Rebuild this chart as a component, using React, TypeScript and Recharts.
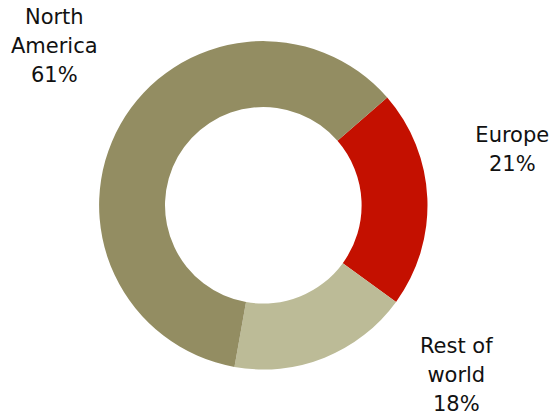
import React from 'react';
import { PieChart, Pie, Cell } from 'recharts';

const regions = ['Europe', 'Rest of world', 'North America'];
const shares = [21.4, 17.8, 60.8];
const labelLines = [['Europe'], ['Rest of', 'world'], ['North', 'America']];

const sliceColors = ['#c41000', '#bcbb97', '#938d62'];

// label block anchor relative to the pie centre (dx = centre of text, dy = first baseline)
const labelOffsets = [
  { dx: 249, dy: -63 },
  { dx: 193, dy: 148 },
  { dx: -209, dy: -181 },
];

const data = regions.map((name, i) => ({ name, value: shares[i] }));

const renderLabel = (props: any) => {
  const { cx, cy, index, value } = props;
  const off = labelOffsets[index];
  const lines = [...labelLines[index], `${Math.round(value)}%`];
  return (
    <text
      x={cx + off.dx}
      y={cy + off.dy}
      textAnchor="middle"
      fill="#111"
      fontSize={21}
      fontFamily="'DejaVu Sans', Verdana, sans-serif"
    >
      {lines.map((l, i) => (
        <tspan key={i} x={cx + off.dx} dy={i === 0 ? 0 : 29}>
          {l}
        </tspan>
      ))}
    </text>
  );
};

export default function App() {
  return (
    <div style={{ position: 'absolute', left: 0, top: 0, background: '#fff' }}>
      <PieChart width={553} height={416} margin={{ top: 0, right: 0, bottom: 0, left: 0 }}>
        <Pie
          data={data}
          dataKey="value"
          nameKey="name"
          cx={263.3}
          cy={205.3}
          innerRadius={98.3}
          outerRadius={164.2}
          startAngle={41}
          endAngle={-319}
          stroke="none"
          label={renderLabel}
          labelLine={false}
          isAnimationActive={false}
        >
          {data.map((d, i) => (
            <Cell key={d.name} fill={sliceColors[i]} />
          ))}
        </Pie>
      </PieChart>
    </div>
  );
}
